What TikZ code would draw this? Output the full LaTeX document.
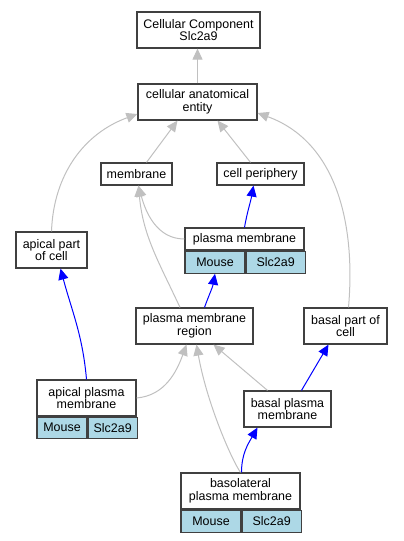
\documentclass[tikz,border=0pt]{standalone}
\usepackage{fontspec}
\setmainfont{Liberation Sans}
\usetikzlibrary{arrows.meta,positioning}
\definecolor{lightblue}{HTML}{ADD8E6}
\definecolor{edgegray}{HTML}{C0C0C0}

\begin{document}
\begin{tikzpicture}[x=1bp, y=1bp, term/.style = {draw=black!75, line width=1.2bp, fill=white, align=center, inner sep=0pt, minimum height=36bp, font=\fontsize{12.5}{12.7}\selectfont}, cell/.style = {term, fill=lightblue, minimum height=22bp}, isa/.style = {draw=edgegray, line width=1bp, -{Triangle[length=11bp,width=10bp]}}, partof/.style = {isa, draw=blue}]
            \useasboundingbox (0,0) rectangle (403,-541);
            \node[term,minimum width=123bp] (cc) at (198.5,-30) {Cellular Component\\Slc2a9};
            \node[term,minimum width=119bp] (cae) at (197.5,-102) {cellular anatomical\\entity};
            \node[term,minimum width=71bp,minimum height=22bp] (mem) at (136.5,-174) {membrane};
            \node[term,minimum width=87bp,minimum height=22bp] (cp) at (260.5,-174) {cell periphery};
            \node[term,minimum width=71bp] (apc) at (51.5,-250) {apical part\\of cell};
            \node[term,minimum width=119bp,minimum height=22bp] (pm) at (244.5,-239) {plasma membrane};
            \node[cell,minimum width=60bp] (pmSp) [below right=0pt of pm.south west] {Mouse};
            \node[cell,minimum width=59bp] (pmGene) [right=0pt of pmSp] {Slc2a9};
            \node[term,minimum width=117bp] (pmr) at (194.5,-326) {plasma membrane\\region};
            \node[term,minimum width=83bp] (bpc) at (345.5,-326) {basal part of\\cell};
            \node[term,minimum width=99bp] (apm) at (86.5,-398) {apical plasma\\membrane};
            \node[cell,minimum width=50bp,minimum height=21bp] (apmSp) [below right=0pt of apm.south west] {Mouse};
            \node[cell,minimum width=49bp,minimum height=21bp] (apmGene) [right=0pt of apmSp] {Slc2a9};
            \node[term,minimum width=87bp] (bpm) at (287.5,-409) {basal plasma\\membrane};
            \node[term,minimum width=119bp] (blpm) at (240.5,-491) {basolateral\\plasma membrane};
            \node[cell,minimum width=60bp] (blpmSp) [below right=0pt of blpm.south west] {Mouse};
            \node[cell,minimum width=59bp] (blpmGene) [right=0pt of blpmSp] {Slc2a9};

            \draw[isa] (cae.north) -- (cae.north |- cc.south);
            \draw[isa] ([xshift=10bp]mem.north) -- ([xshift=-20bp]cae.south);
            \draw[isa] ([xshift=-10bp]cp.north) -- ([xshift=20bp]cae.south);
            \draw[isa] (apc.north) to[out=88,in=200] ([yshift=-12bp]cae.west);
            \draw[isa] ([xshift=3bp]bpc.north) to[out=85,in=-20] ([yshift=-11bp]cae.east);
            \draw[isa] (pm.west) to[out=180,in=-75] ([xshift=2bp]mem.south);
            \draw[partof] (pm.north) to[out=80,in=-100] ([xshift=-7bp]cp.south);
            \draw[isa] ([xshift=-14.5bp]pmr.north) to[out=115,in=-85] ([xshift=2bp]mem.south);
            \draw[partof] ([xshift=10bp]pmr.north) to[out=70,in=-100] (pmSp.south);
            \draw[partof] (apm.north) to[out=95,in=-75] ([xshift=9bp]apc.south);
            \draw[isa] (apm.east) to[out=5,in=-110] ([xshift=-8bp]pmr.south);
            \draw[isa] ([xshift=-20bp]bpm.north) -- ([xshift=19bp]pmr.south);
            \draw[partof] ([xshift=14bp]bpm.north) -- ([xshift=-17bp]bpc.south);
            \draw[isa] (blpm.north) .. controls +(125:15) and +(-80:60) .. ([xshift=2bp]pmr.south);
            \draw[partof] ([xshift=1bp]blpm.north) to[out=90,in=-120] ([xshift=-30bp]bpm.south);
        \end{tikzpicture}
\end{document}
